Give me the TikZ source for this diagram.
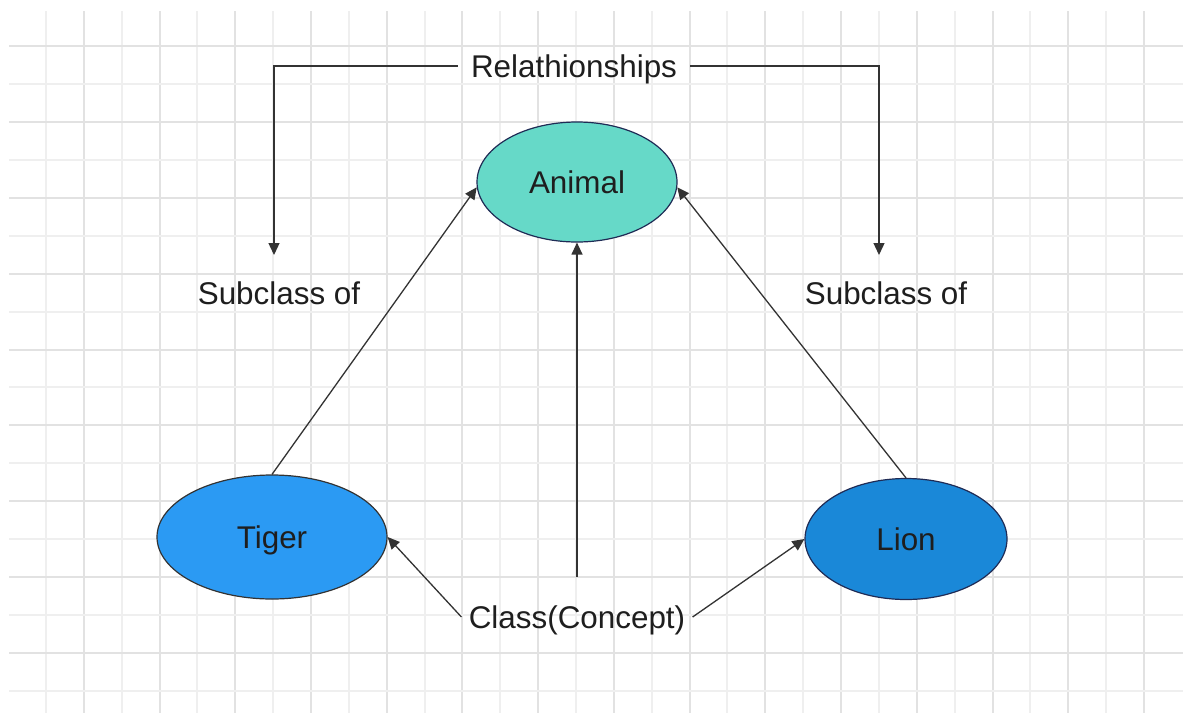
\documentclass[tikz,border=0pt]{standalone}
\usepackage{fontspec}
\setmainfont{Liberation Sans}
\usetikzlibrary{shapes.geometric,arrows.meta}
\definecolor{gridmajor}{HTML}{E2E2E2}
\definecolor{gridminor}{HTML}{EFEFEF}
\definecolor{animalfill}{HTML}{66D9C8}
\definecolor{tigerfill}{HTML}{2B9AF3}
\definecolor{lionfill}{HTML}{1A88D8}
\definecolor{navy}{HTML}{1F2B55}
\definecolor{ink}{HTML}{1E1E1E}
\definecolor{wire}{HTML}{333333}
\begin{document}
\begin{tikzpicture}[x=0.5pt,y=-0.5pt,
  concept/.style={ellipse, draw, line width=0.6pt, inner sep=0pt, text depth=0pt,
    font=\fontsize{15.7}{18}\selectfont, text=ink},
  lbl/.style={font=\fontsize{15.7}{18}\selectfont, text=ink, inner sep=0pt, text depth=0pt},
  link/.style={draw=wire, line width=0.65pt, -{Triangle[length=6pt,width=5.5pt]}}]
% page and background grid
\fill[white] (0,0) rectangle (1183,713);
\useasboundingbox (0,0) rectangle (1183,713);
\foreach \k in {0,...,29} {
  \pgfmathsetmacro\gx{46+37.86*\k}
  \ifodd\k
    \draw[gridmajor, line width=1pt] (\gx,11) -- (\gx,713);
  \else
    \draw[gridminor, line width=1pt] (\gx,11) -- (\gx,713);
  \fi
}
\foreach \k in {0,...,17} {
  \pgfmathsetmacro\gy{46+37.94*\k}
  \ifodd\k
    \draw[gridminor, line width=1pt] (9,\gy) -- (1183,\gy);
  \else
    \draw[gridmajor, line width=1pt] (9,\gy) -- (1183,\gy);
  \fi
}
% classes
\node[concept, fill=animalfill, draw=navy, minimum width=100pt, minimum height=60pt] (animal) at (577,182) {Animal};
\node[concept, fill=tigerfill, draw=wire, minimum width=115pt, minimum height=62pt] (tiger) at (272,537) {Tiger};
\node[concept, fill=lionfill, draw=navy, minimum width=101pt, minimum height=60.5pt] (lion) at (906,539) {Lion};
% labels
\node[lbl, inner xsep=6.5pt] (rel) at (574,66) {Relathionships};
\node[lbl] (subL) at (279,293) {Subclass of};
\node[lbl] (subR) at (886,293) {Subclass of};
\node[lbl, inner xsep=3.5pt, minimum height=40pt] (cls) at (577,617) {Class(Concept)};
\coordinate (tipL) at (274,255);
\coordinate (tipR) at (879,255);
% connectors
\draw[link] (rel.west) -| (tipL);
\draw[link] (rel.east) -| (tipR);
\draw[link] (tiger.north) -- (animal.183);
\draw[link] (lion.north) -- (animal.-3);
\draw[link] (cls.north) -- (animal.south);
\draw[link] (cls.west) -- (tiger.east);
\draw[link] (cls.east) -- (lion.west);
\end{tikzpicture}
\end{document}
